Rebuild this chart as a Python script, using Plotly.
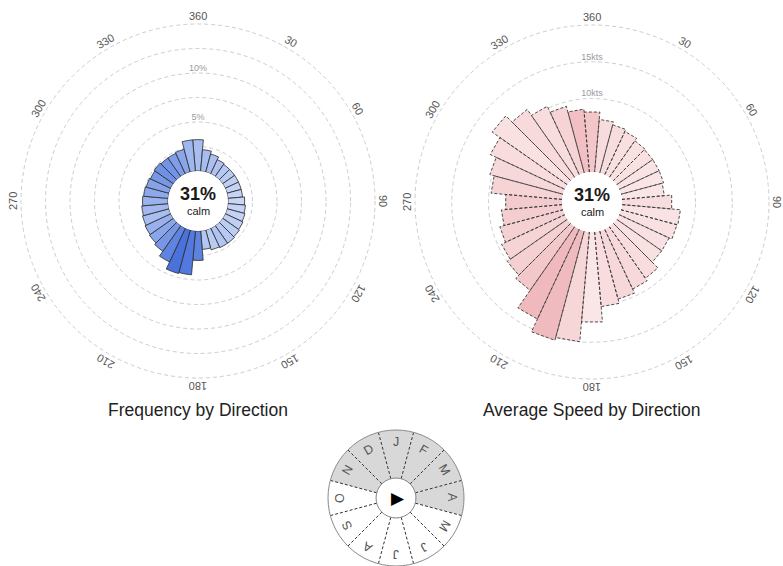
import math
import plotly.graph_objects as go

W, H = 783, 566
OFF = 0  # page body margin removed below (post_script)

# ---------------- data ----------------
directions = list(range(0, 360, 10))

freq_pct = [3.2, 2.2, 1.9, 1.6, 1.5, 1.5, 1.5, 1.5, 1.5, 1.7, 1.8, 1.9,
            2.0, 2.1, 2.2, 2.2, 2.1, 1.9, 3.0, 4.5, 4.6, 3.8, 3.2, 3.0,
            2.9, 2.8, 2.7, 2.6, 2.5, 2.4, 2.3, 2.4, 2.3, 2.3, 2.4, 3.2]

freq_colors = ["#a8bdf0", "#a7bcf0", "#abbff1", "#afc2f2", "#b5c7f3", "#bacbf3",
               "#bfcff4", "#c3d2f5", "#c6d4f5", "#c9d6f6", "#c6d4f5", "#c3d2f5",
               "#c0d0f4", "#bccdf4", "#b6c8f3", "#b0c3f2", "#b9caf3", "#b4c6f2",
               "#5e82e0", "#5479de", "#4a72dc", "#5f83e0", "#7895e6", "#8aa6ea",
               "#98b0ed", "#a9bef0", "#a2b8ee", "#9ab2ed", "#8ea9eb", "#86a2e9",
               "#7897e6", "#6f91e5", "#7394e6", "#7f9de8", "#8aa6ea", "#9fb7ef"]

speed_kts = [8.2, 7.2, 6.8, 6.5, 6.1, 6.0, 6.0, 6.0, 5.8, 6.8, 8.0, 7.9,
             7.5, 7.5, 8.6, 9.0, 9.6, 10.2, 12.3, 15.0, 15.4, 13.5, 10.6, 10.0,
             9.5, 8.9, 8.3, 7.7, 9.7, 10.3, 11.2, 12.5, 11.3, 10.3, 9.4, 8.6]

speed_colors = ["#f3c6c9", "#f8dbdd", "#f8dddf", "#f9dfe0", "#f9e0e1", "#f9e1e2",
                "#fae3e4", "#fae4e5", "#fae5e6", "#f8dddf", "#f9e2e3", "#f9e1e2",
                "#f9e0e2", "#f9e0e1", "#f8dcde", "#f7d9db", "#f7d8da", "#f8dcde",
                "#fbe6e7", "#f7d6d8", "#efbbbf", "#efb9bd", "#f3c8cb", "#f5d0d3",
                "#f6d4d6", "#f5d0d2", "#f4cdd0", "#f3cacd", "#f6d4d6", "#f7d8da",
                "#f8dcde", "#f9e0e1", "#f8dadc", "#f8dcde", "#f6d3d5", "#f2c0c4"]

angle_ticks = [0, 30, 60, 90, 120, 150, 180, 210, 240, 270, 300, 330]
angle_labels = ["360", "30", "60", "90", "120", "150", "180", "210", "240", "270", "300", "330"]

freq_rings = [2.5, 5, 7.5, 10, 12.5, 15]
freq_ring_labels = {5: "5%", 10: "10%"}
speed_rings = [5, 10, 15, 20]
speed_ring_labels = {10: "10kts", 15: "15kts"}

calm_text = "31%"
calm_sub = "calm"

months = ["J", "F", "M", "A", "M", "J", "J", "A", "S", "O", "N", "D"]
month_theta = [0, 30, 60, 90, 120, 150, 180, 210, 240, 270, 300, 330]
month_selected = [1, 1, 1, 1, 0, 0, 0, 0, 0, 0, 1, 1]

titles = ["Frequency by Direction", "Average Speed by Direction"]

# ---------------- geometry (page pixels) ----------------
G_LEFT = dict(cx=198, cy=201, R=177, hole=30)
G_RIGHT = dict(cx=592, cy=202, R=177, hole=30)
G_MONTH = dict(cx=396, cy=498, R=68, hole=20)
TITLE_Y = 410

FONT = "Liberation Sans, Arial, Helvetica, sans-serif"
GRID = "#cdcdcd"


def px(X, Y):
    return (X - OFF) / W, 1 - (Y - OFF) / H


def domain(g):
    x0, y1 = px(g["cx"] - g["R"], g["cy"] - g["R"])
    x1, y0 = px(g["cx"] + g["R"], g["cy"] + g["R"])
    return dict(x=[max(0.0, x0), min(1.0, x1)], y=[max(0.0, y0), min(1.0, y1)])


def pt(g, dist, theta):
    a = math.radians(theta)
    return px(g["cx"] + dist * math.sin(a), g["cy"] - dist * math.cos(a))


fig = go.Figure()

# left rose
fig.add_trace(go.Barpolar(
    r=freq_pct, theta=directions, width=[10] * len(directions),
    marker=dict(color=freq_colors, line=dict(color="#2b2b2b", width=0.8)),
    subplot="polar", hoverinfo="skip"))
fig.add_trace(go.Scatterpolar(
    r=list(freq_ring_labels.keys()), theta=[0] * len(freq_ring_labels),
    text=list(freq_ring_labels.values()), mode="text", textposition="top center",
    textfont=dict(size=9, color="#9a9a9a", family=FONT), subplot="polar",
    hoverinfo="skip"))

# right rose
fig.add_trace(go.Barpolar(
    r=speed_kts, theta=directions, width=[10] * len(directions),
    marker=dict(color=speed_colors, line=dict(width=0)),
    subplot="polar2", hoverinfo="skip"))
ol_r, ol_t = [], []
for d, v in zip(directions, speed_kts):
    ol_r += [0, v, v, 0, None]
    ol_t += [d - 5, d - 5, d + 5, d + 5, None]
fig.add_trace(go.Scatterpolar(
    r=ol_r, theta=ol_t, mode="lines",
    line=dict(color="#3a3a3a", width=0.9, dash="3px,2px"),
    subplot="polar2", hoverinfo="skip"))
fig.add_trace(go.Scatterpolar(
    r=list(speed_ring_labels.keys()), theta=[0] * len(speed_ring_labels),
    text=list(speed_ring_labels.values()), mode="text", textposition="top center",
    textfont=dict(size=9, color="#9a9a9a", family=FONT), subplot="polar2",
    hoverinfo="skip"))

# month wheel
fig.add_trace(go.Barpolar(
    r=[1] * len(months), theta=month_theta, width=[30] * len(months),
    marker=dict(color=["#d8d8d8" if s else "#ffffff" for s in month_selected],
                line=dict(width=0)),
    subplot="polar3", hoverinfo="skip"))
div_r, div_t = [], []
for t in month_theta:
    div_r += [0, 1, None]
    div_t += [t + 15, t + 15, None]
fig.add_trace(go.Scatterpolar(
    r=div_r, theta=div_t, mode="lines",
    line=dict(color="#333333", width=1, dash="3px,2px"),
    subplot="polar3", hoverinfo="skip"))


def polar_layout(g, rng, rings):
    return dict(
        domain=domain(g),
        hole=g["hole"] / g["R"],
        bgcolor="rgba(0,0,0,0)",
        bargap=0,
        radialaxis=dict(range=rng, tickvals=rings, showticklabels=False, ticks="",
                        showline=False, showgrid=True, gridcolor=GRID,
                        griddash="4px,3px", gridwidth=1),
        angularaxis=dict(rotation=90, direction="clockwise", showticklabels=False,
                         ticks="", showgrid=False, showline=False),
    )


fig.update_layout(
    width=W, height=H, margin=dict(l=0, r=0, t=0, b=0),
    paper_bgcolor="white", plot_bgcolor="white", showlegend=False,
    polar=polar_layout(G_LEFT, [0, 15], freq_rings),
    polar2=polar_layout(G_RIGHT, [0, 20], speed_rings),
    polar3=dict(
        domain=domain(G_MONTH), hole=G_MONTH["hole"] / G_MONTH["R"],
        bgcolor="rgba(0,0,0,0)", bargap=0,
        radialaxis=dict(range=[0, 1], showticklabels=False, ticks="", showline=False,
                        showgrid=False),
        angularaxis=dict(rotation=90, direction="clockwise", showticklabels=False,
                         ticks="", showgrid=False, showline=True, linecolor="#8a8a8a",
                         linewidth=1),
    ),
)

ann = []
for g in (G_LEFT, G_RIGHT):
    for t, lab in zip(angle_ticks, angle_labels):
        x, y = pt(g, g["R"] + 8, t)
        ann.append(dict(x=x, y=y, xref="paper", yref="paper", text=lab, showarrow=False,
                        textangle=t, xanchor="center", yanchor="middle",
                        font=dict(size=11, color="#555", family=FONT)))
    x, y = pt(g, 7, 0)
    ann.append(dict(x=x, y=y, xref="paper", yref="paper", text="<b>" + calm_text + "</b>",
                    showarrow=False, xanchor="center", yanchor="middle",
                    font=dict(size=18, color="#1a1a1a", family=FONT)))
    x, y = pt(g, -10, 0)
    ann.append(dict(x=x, y=y, xref="paper", yref="paper", text=calm_sub, showarrow=False,
                    xanchor="center", yanchor="middle",
                    font=dict(size=11, color="#1a1a1a", family=FONT)))

for g, ttl in zip((G_LEFT, G_RIGHT), titles):
    x, y = px(g["cx"], TITLE_Y)
    ann.append(dict(x=x, y=y, xref="paper", yref="paper", text=ttl,
                    showarrow=False, xanchor="center", yanchor="middle",
                    font=dict(size=17.5, color="#222", family=FONT)))

for t, m in zip(month_theta, months):
    x, y = pt(G_MONTH, 56, t)
    ann.append(dict(x=x, y=y, xref="paper", yref="paper", text=m, showarrow=False,
                    textangle=t, xanchor="center", yanchor="middle",
                    font=dict(size=12.5, color="#555", family=FONT)))

x, y = pt(G_MONTH, 0, 0)
ann.append(dict(x=x + 1.5 / W, y=y, xref="paper", yref="paper", text="\u25B6", showarrow=False,
                xanchor="center", yanchor="middle",
                font=dict(size=17, color="#000", family="DejaVu Sans")))
fig.update_layout(annotations=ann)


def circle_shape(g, radius, color, dash):
    x0, y1 = px(g["cx"] - radius, g["cy"] - radius)
    x1, y0 = px(g["cx"] + radius, g["cy"] + radius)
    fig.add_shape(type="circle", xref="paper", yref="paper", x0=x0, x1=x1, y0=y0, y1=y1,
                  line=dict(color=color, width=1, dash=dash), layer="below")


# outer rings (radial range max) of both roses
circle_shape(G_LEFT, G_LEFT["R"], GRID, "4px,3px")
circle_shape(G_RIGHT, G_RIGHT["R"], GRID, "4px,3px")
# inner circle of the month wheel
circle_shape(G_MONTH, G_MONTH["hole"], "#999", "2px,2px")

fig.write_html("out.html",
               config={"displayModeBar": False},
               post_script="document.body.style.margin='0';document.body.style.overflow='hidden';")
